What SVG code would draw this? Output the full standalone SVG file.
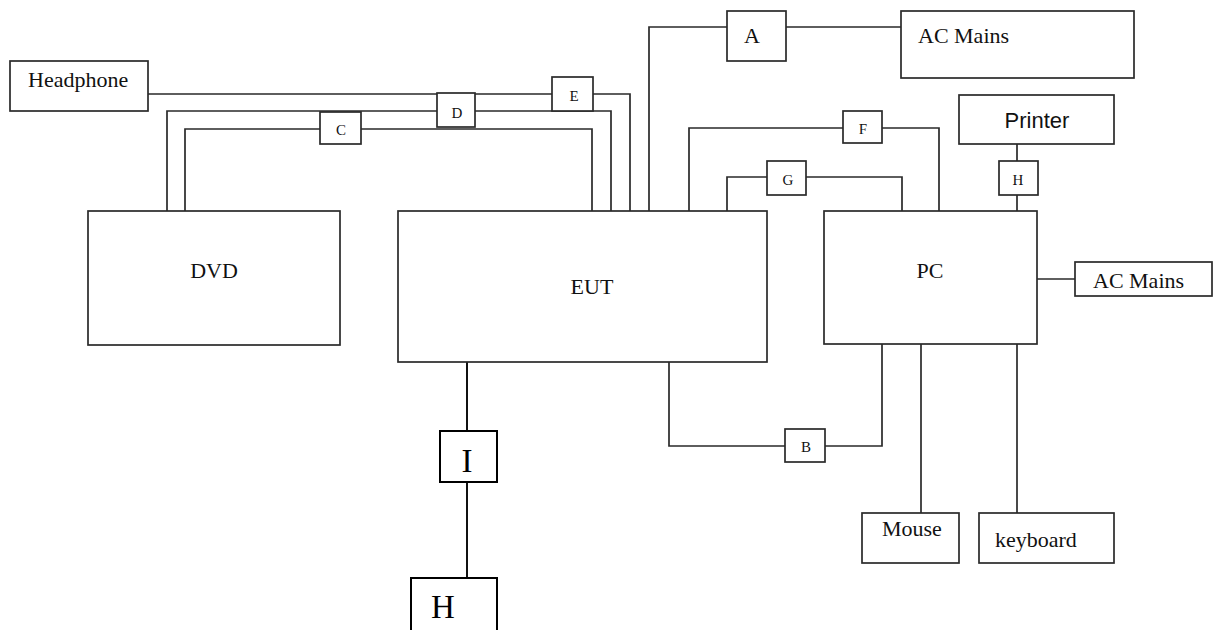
<svg xmlns="http://www.w3.org/2000/svg" width="1218" height="630" viewBox="0 0 1218 630">
<style>
.box{fill:#fff;stroke:#2a2a2a;stroke-width:1.7}
.bk{fill:#fff;stroke:#000;stroke-width:2}
.ln{fill:none;stroke:#2a2a2a;stroke-width:1.7}
.t{font-family:"Liberation Serif",serif;font-size:22px;fill:#111}
.s{font-family:"Liberation Serif",serif;font-size:15px;fill:#111;text-anchor:middle}
.big{font-family:"Liberation Serif",serif;font-size:33px;fill:#000;text-anchor:middle}
.sans{font-family:"Liberation Sans",sans-serif;font-size:22px;fill:#111;text-anchor:middle}
</style>
<rect width="1218" height="630" fill="#fff"/>
<g id="connectors">
<polyline class="ln" points="148,94 630,94 630,211"/>
<polyline class="ln" points="167,211 167,111 611,111 611,211"/>
<polyline class="ln" points="185,211 185,129 592,129 592,211"/>
<polyline class="ln" points="649,211 649,27 901,27"/>
<polyline class="ln" points="689,211 689,128 939,128 939,211"/>
<polyline class="ln" points="727,211 727,177 902,177 902,211"/>
<line class="ln" x1="1017" y1="144" x2="1017" y2="211"/>
<line class="ln" x1="1037" y1="279" x2="1075" y2="279"/>
<polyline class="ln" points="669,362 669,446 882,446 882,344"/>
<line class="ln" x1="921" y1="344" x2="921" y2="513"/>
<line class="ln" x1="1017" y1="344" x2="1017" y2="513"/>
<line x1="467" y1="362" x2="467" y2="578" stroke="#111" stroke-width="2"/>
</g>
<g id="headphone"><rect class="box" x="10" y="61" width="138" height="50"/><text class="t" x="28" y="87">Headphone</text></g>
<g id="dvd"><rect class="box" x="88" y="211" width="252" height="134"/><text class="t" x="214" y="278" text-anchor="middle">DVD</text></g>
<g id="eut"><rect class="box" x="398" y="211" width="369" height="151"/><text class="t" x="592" y="294" text-anchor="middle">EUT</text></g>
<g id="pc"><rect class="box" x="824" y="211" width="213" height="133"/><text class="t" x="930" y="278" text-anchor="middle">PC</text></g>
<g id="ac-mains-top"><rect class="box" x="901" y="11" width="233" height="67"/><text class="t" x="918" y="43">AC Mains</text></g>
<g id="ac-mains-pc"><rect class="box" x="1075" y="262" width="137" height="34"/><text class="t" x="1093" y="288">AC Mains</text></g>
<g id="printer"><rect class="box" x="959" y="95" width="155" height="49"/><text class="sans" x="1037" y="128">Printer</text></g>
<g id="mouse"><rect class="box" x="862" y="513" width="97" height="50"/><text class="t" x="882" y="536">Mouse</text></g>
<g id="keyboard"><rect class="box" x="979" y="513" width="135" height="50"/><text class="t" x="995" y="547">keyboard</text></g>
<g id="A"><rect class="box" x="727" y="11" width="59" height="50"/><text class="t" x="752" y="43" text-anchor="middle">A</text></g>
<g id="B"><rect class="box" x="785" y="429" width="40" height="33"/><text class="s" x="806" y="452">B</text></g>
<g id="C"><rect class="box" x="320" y="112" width="41" height="32"/><text class="s" x="341" y="135">C</text></g>
<g id="D"><rect class="box" x="437" y="93" width="38" height="34"/><text class="s" x="457" y="118">D</text></g>
<g id="E"><rect class="box" x="552" y="77" width="41" height="34"/><text class="s" x="574" y="101">E</text></g>
<g id="F"><rect class="box" x="843" y="111" width="39" height="32"/><text class="s" x="863" y="134">F</text></g>
<g id="G"><rect class="box" x="767" y="161" width="39" height="34"/><text class="s" x="788" y="185">G</text></g>
<g id="H-small"><rect class="box" x="999" y="161" width="39" height="34"/><text class="s" x="1018" y="185">H</text></g>
<g id="I"><rect class="bk" x="440" y="431" width="57" height="51"/><text class="big" x="467" y="472">I</text></g>
<g id="H"><rect class="bk" x="411" y="578" width="86" height="70"/><text class="big" x="443" y="618">H</text></g>
</svg>
